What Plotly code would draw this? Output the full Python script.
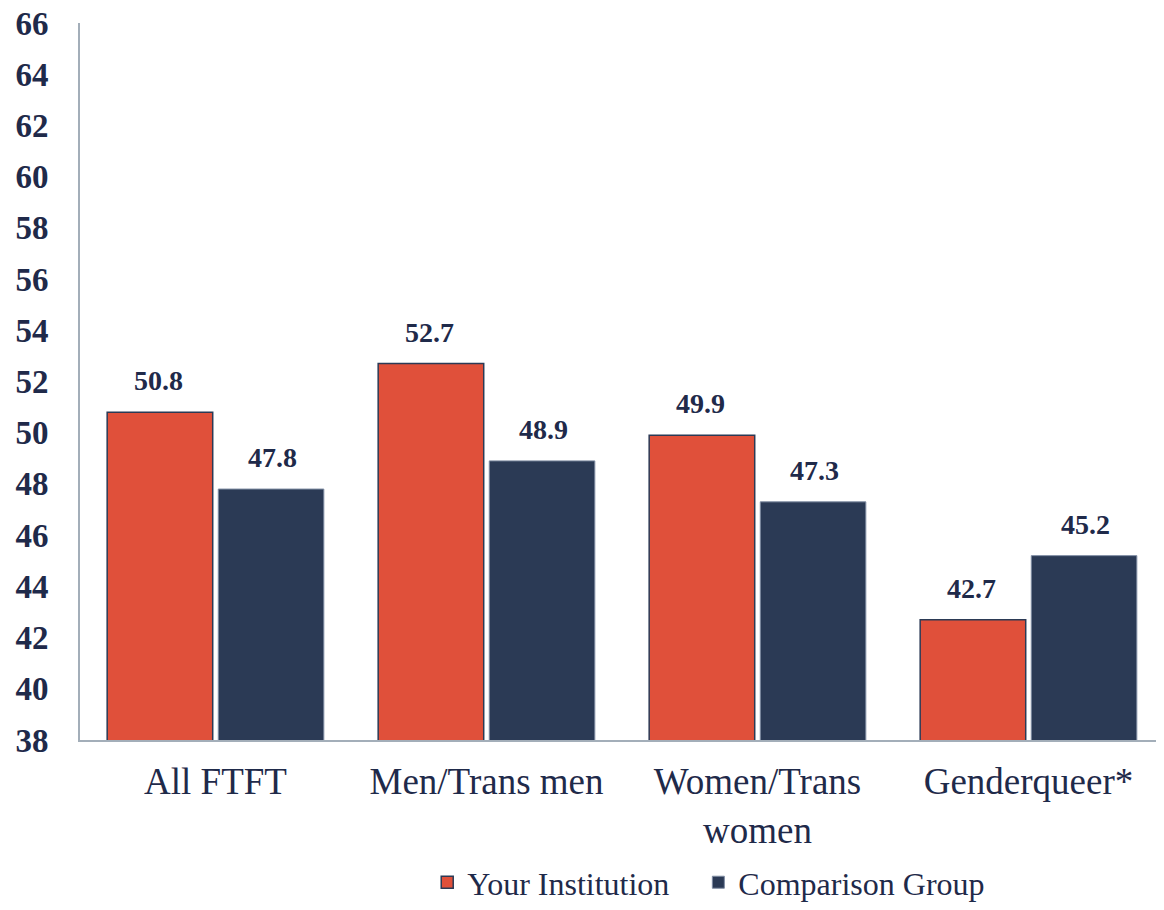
import plotly.graph_objects as go

categories = ["All FTFT", "Men/Trans men", "Women/Trans<br>women", "Genderqueer*"]
your_institution = [50.8, 52.7, 49.9, 42.7]
comparison_group = [47.8, 48.9, 47.3, 45.2]
y_ticks = list(range(38, 67, 2))

RED = "#E0503A"
NAVY = "#2B3A55"
TEXT = "#1F2A4A"
FONT = "Liberation Serif"

fig = go.Figure()
fig.add_trace(go.Bar(
    x=categories, y=your_institution, name="Your Institution\u00a0\u00a0\u00a0",
    marker=dict(color=RED, line=dict(color=NAVY, width=1.5)),
))
fig.add_trace(go.Bar(
    x=categories, y=comparison_group, name="Comparison Group",
    marker=dict(color=NAVY, line=dict(color="#7F8CA3", width=1)),
))

# value labels above each bar
for series, shift in ((your_institution, -57), (comparison_group, 57)):
    for cat, val in zip(categories, series):
        fig.add_annotation(
            x=cat, y=val, text=f"<b>{val:.1f}</b>", showarrow=False,
            xshift=shift, yanchor="bottom", yshift=14,
            font=dict(family=FONT, size=28, color=TEXT),
        )

# page body has an 8px margin, so the figure is sized to fit the window
fig.update_layout(
    width=1156, height=902,
    margin=dict(l=72, r=0, t=15, b=170, autoexpand=False),
    barmode="group", bargap=0.18, bargroupgap=0.05,
    plot_bgcolor="white", paper_bgcolor="white",
    font=dict(family=FONT, color=TEXT),
    legend=dict(
        orientation="h", x=0.58, xanchor="center", y=-0.237, yanchor="bottom",
        font=dict(family=FONT, size=32, color=TEXT), itemwidth=30,
    ),
)
fig.update_yaxes(
    range=[38, 66], tickvals=y_ticks, showgrid=False, automargin=False,
    showline=True, linecolor="#A3AEB9", linewidth=2,
    tickfont=dict(family=FONT, size=33, color=TEXT, weight="bold"),
    ticklabelstandoff=23, ticks="", ticklabeloverflow="allow",
)
fig.update_xaxes(
    showline=True, linecolor="#A3AEB9", linewidth=2, ticks="", automargin=False,
    tickfont=dict(family=FONT, size=37, color=TEXT),
    ticklabelstandoff=8,
)

fig.write_html("out.html")
